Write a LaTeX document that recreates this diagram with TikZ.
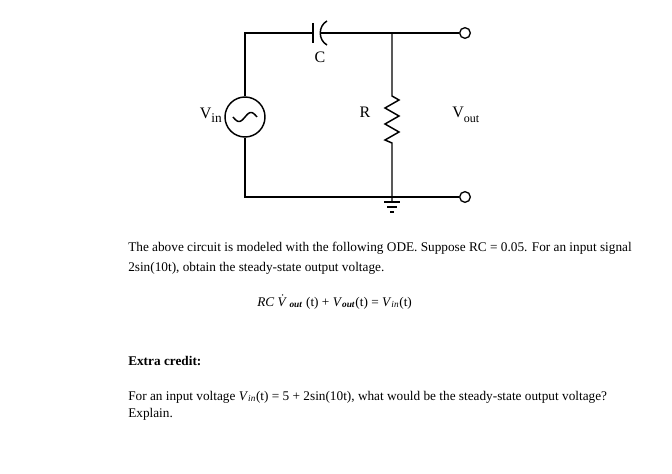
\documentclass[tikz,border=0pt]{standalone}
\usepackage{fontspec}
\setmainfont{Liberation Serif}
\begin{document}
\begin{tikzpicture}[x=0.75pt,y=-0.75pt,
  wire/.style={line width=1.1pt},
  term/.style={circle,draw,line width=1pt,fill=white,inner sep=0pt,minimum size=8pt},
  txt/.style={anchor=base west,inner sep=0pt,font=\fontsize{9.95}{12}\selectfont}]
\useasboundingbox (0,0) rectangle (672,474);
% nodes
\coordinate (tl) at (245,33);
\coordinate (bl) at (245,197);
\node[circle,draw,line width=1.1pt,minimum size=30pt,inner sep=0pt] (src) at (245,117) {};
\coordinate (c1) at (313,33);
\coordinate (c2) at (321,33);
\coordinate (j) at (392,33);
\coordinate (r1) at (392,96);
\coordinate (r2) at (392,143);
\coordinate (jb) at (392,197);
\node[term] (to) at (465,33) {};
\node[term] (bo) at (465,197) {};
% wires
\draw[wire] (src.north) -- (tl) -- (c1);
\draw[wire] (src.south) -- (bl) -- (bo.west);
\draw[wire] (313,23) -- (313,43);
\draw[wire] (327,21) .. controls (318,26) and (318,40) .. (327,45);
\draw[wire] (c2) -- (to.west);
\draw[wire] (j) -- (r1) -- ++(7,4) -- ++(-14,8) -- ++(14,8) -- ++(-14,8) -- ++(14,8) -- ++(-14,8) -- (r2) -- (jb) -- ++(0,5);
\draw[wire] (384,202) -- (400,202) (387,207) -- (397,207) (390,212) -- (394,212);
\draw[wire,domain=-12:12,samples=40,smooth] plot ({245+\x},{117-4.5*sin(\x*15)});
% labels
\node[font=\fontsize{12}{14}\selectfont,inner sep=0pt] (lc) at (320,57) {C};
\node[font=\fontsize{12}{14}\selectfont,inner sep=0pt] (lr) at (365,112) {R};
\node[font=\fontsize{12}{14}\selectfont,inner sep=0pt,anchor=east] (lv) at (222,115) {V\raisebox{-3pt}{\fontsize{10}{12}\selectfont in}};
\node[font=\fontsize{12}{14}\selectfont,inner sep=0pt,anchor=west] (lo) at (452,115) {V\raisebox{-4pt}{\fontsize{9}{11}\selectfont out}};
% text
\node[txt] (p1) at (128,252) {The above circuit is modeled with the following ODE. Suppose RC = 0.05. For an input signal};
\node[txt] (p2) at (128,272) {2sin(10t), obtain the steady-state output voltage.};
\node[txt] (eq) at (257,306) {\textit{RC} \textit{\.{V}}\textsubscript{\textit{\textbf{out}}} (t) + \textit{V}\textsubscript{\textit{\textbf{out}}}(t) = \textit{V}\textsubscript{\textit{in}}(t)};
\node[txt,font=\fontsize{9.95}{12}\selectfont\bfseries] (ec) at (128,365) {Extra credit:};
\node[txt] (q1) at (128,400) {For an input voltage \textit{V}\textsubscript{\textit{in}}(t) = 5 + 2sin(10t), what would be the steady-state output voltage?};
\node[txt] (q2) at (128,417) {Explain.};
\end{tikzpicture}
\end{document}
